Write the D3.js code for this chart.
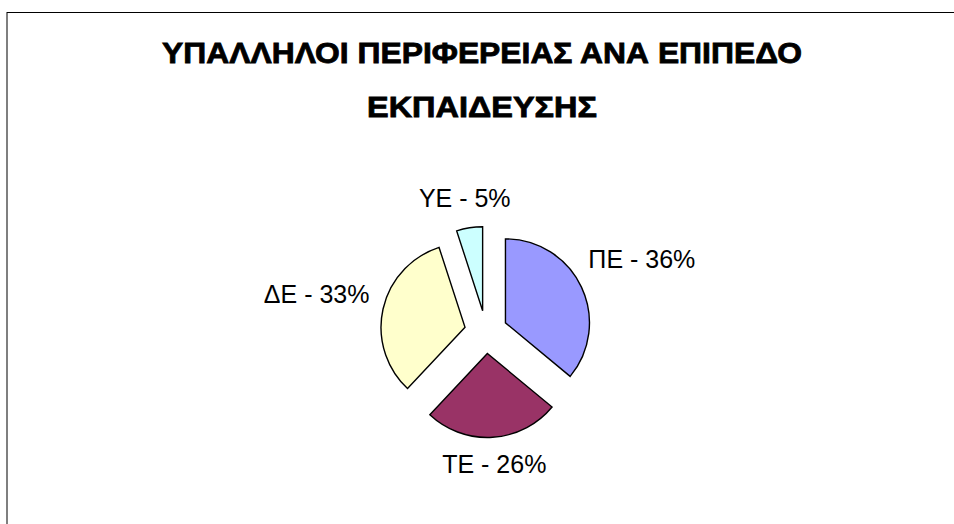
<!DOCTYPE html>
<html>
<head>
<meta charset="utf-8">
<script src="https://cdn.jsdelivr.net/npm/d3@7"></script>
<style>
  html, body { margin: 0; padding: 0; background: #fff; }
  svg { display: block; font-family: "Liberation Sans", Arial, sans-serif; }
</style>
</head>
<body>
<div id="chart"></div>
<script>
/* Exploded pie: staff of the region by education level. */

var categories = ["ΠΕ", "ΤΕ", "ΔΕ", "ΥΕ"];
var shares = [36, 26, 33, 5];
var sliceColors = ["#9999FF", "#993366", "#FFFFCC", "#CCFFFF"];
var titleLines = ["ΥΠΑΛΛΗΛΟΙ ΠΕΡΙΦΕΡΕΙΑΣ ΑΝΑ ΕΠΙΠΕΔΟ", "ΕΚΠΑΙΔΕΥΣΗΣ"];

var W = 954, H = 524;
var cx = 486, cy = 332, r = 84, explode = 21.5, labelGap = 120;

var svg = d3.select("#chart").append("svg").attr("width", W).attr("height", H);

// chart area frame (right and bottom edges fall outside the picture)
svg.append("rect")
  .attr("x", 7).attr("y", 12.5).attr("width", W + 40).attr("height", H + 40)
  .attr("fill", "#fff").attr("stroke", "#000").attr("stroke-width", 1);

// title: heavy, slightly wide glyphs like the original rendering
var titleY = [63, 116.5], titleW = [640, 230];
titleLines.forEach(function (t, i) {
  var tx = svg.append("text")
    .attr("text-anchor", "middle")
    .attr("font-size", 29).attr("font-weight", "bold")
    .attr("stroke", "#000").attr("stroke-width", 0.8)
    .text(t);
  var k = titleW[i] / tx.node().getComputedTextLength();
  tx.attr("transform", "translate(482," + titleY[i] + ") scale(" + k + ",1)");
});

var pie = d3.pie().sort(null).value(function (d) { return d; });
var arcs = pie(shares);
var arc = d3.arc().innerRadius(0).outerRadius(r);

var g = svg.append("g").attr("transform", "translate(" + cx + "," + cy + ")");

arcs.forEach(function (a, i) {
  var mid = (a.startAngle + a.endAngle) / 2;
  var dx = Math.sin(mid) * explode, dy = -Math.cos(mid) * explode;
  g.append("path")
    .attr("d", arc(a))
    .attr("transform", "translate(" + dx + "," + dy + ")")
    .attr("fill", sliceColors[i])
    .attr("stroke", "#000").attr("stroke-width", 1.4)
    .attr("stroke-linejoin", "miter");

  var label = g.append("text")
    .attr("font-size", 25).attr("fill", "#000")
    .attr("text-anchor", "middle")
    .text(categories[i] + " - " + shares[i] + "%");
  var w = label.node().getComputedTextLength(), h = 18;
  var s = Math.sin(mid), c = -Math.cos(mid);
  var dist = labelGap + Math.abs(s) * w / 2 + Math.abs(c) * h / 2;
  label.attr("x", s * dist).attr("y", c * dist + h / 2);
});
</script>
</body>
</html>
